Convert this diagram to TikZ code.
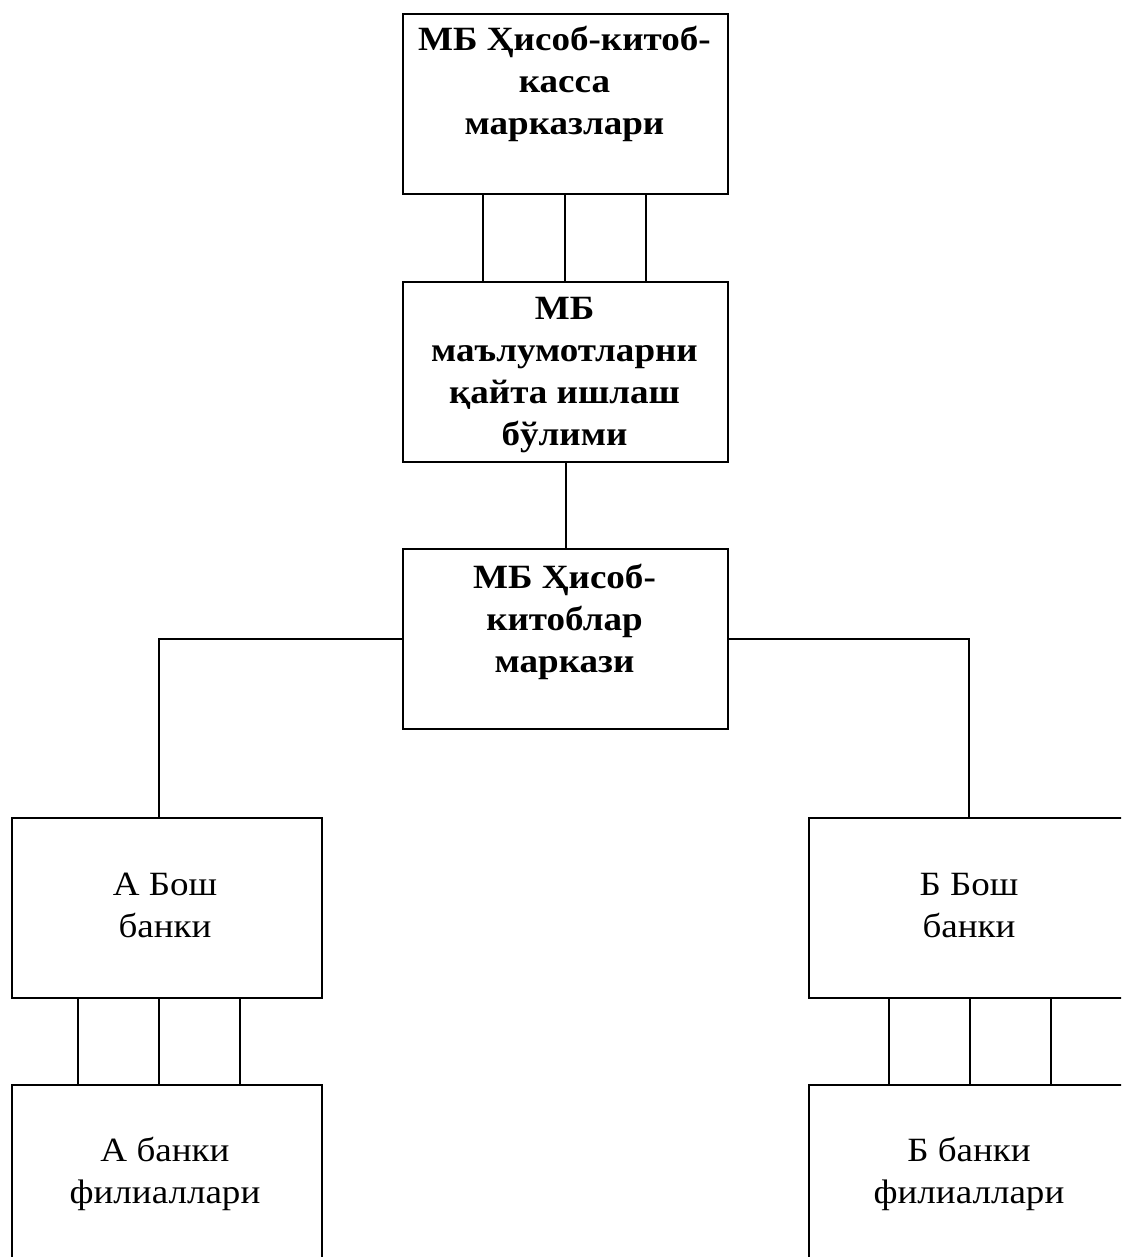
\documentclass[tikz,border=0pt]{standalone}
\usepackage{fontspec}
\setmainfont[FakeStretch=1.09]{Liberation Serif}
\newcommand{\topstrut}{\rule{0pt}{25pt}}
\begin{document}
\begin{tikzpicture}[x=1pt,y=-1pt,
  box/.style={draw, line width=2pt, inner sep=0pt, anchor=north west},
  wbox/.style={box, minimum width=325pt, minimum height=180pt},
  bbox/.style={box, minimum width=310pt, minimum height=180pt},
  rbox/.style={box, minimum width=322pt, minimum height=180pt},
  btxt/.style={font=\bfseries\fontsize{34}{42}\selectfont, align=center, anchor=north, inner sep=0pt},
  ntxt/.style={font=\fontsize{34}{42}\selectfont, align=center, anchor=north, inner sep=0pt},
  conn/.style={line width=2pt}]
\useasboundingbox (0,0) rectangle (1121,1257);
\clip (0,0) rectangle (1121,1257);
% boxes
\node[wbox] (top) at (402,13) {};
\node[wbox] (dep) at (402,281) {};
\node[wbox] (ctr) at (402,548) {};
\node[bbox] (ha) at (11,817) {};
\node[bbox] (fa) at (11,1084) {};
\node[rbox] (hb) at (808,817) {};
\node[rbox] (fb) at (808,1084) {};
% texts
\node[btxt] (ttop) at (564.5,25) {\topstrut МБ Ҳисоб-китоб-\\касса\\марказлари};
\node[btxt] (tdep) at (564.5,294) {\topstrut МБ\\маълумотларни\\қайта ишлаш\\бўлими};
\node[btxt] (tctr) at (564.5,563) {\topstrut МБ Ҳисоб-\\китоблар\\маркази};
\node[ntxt] (tha) at (165,870) {\topstrut А Бош\\банки};
\node[ntxt] (tfa) at (165,1136) {\topstrut А банки\\филиаллари};
\node[ntxt] (thb) at (969,870) {\topstrut Б Бош\\банки};
\node[ntxt] (tfb) at (969,1136) {\topstrut Б банки\\филиаллари};
% connectors
\foreach \xx in {483,564.5,646} \draw[conn] (top.south -| \xx,0) -- (dep.north -| \xx,0);
\draw[conn] (dep.south) -- (ctr.north);
\draw[conn] (ctr.west) -| (ha.north -| 159,0);
\draw[conn] (ctr.east) -| (hb.north -| 969,0);
\foreach \xx in {78,159,240} \draw[conn] (ha.south -| \xx,0) -- (fa.north -| \xx,0);
\foreach \xx in {889,970,1051} \draw[conn] (hb.south -| \xx,0) -- (fb.north -| \xx,0);
\end{tikzpicture}
\end{document}
